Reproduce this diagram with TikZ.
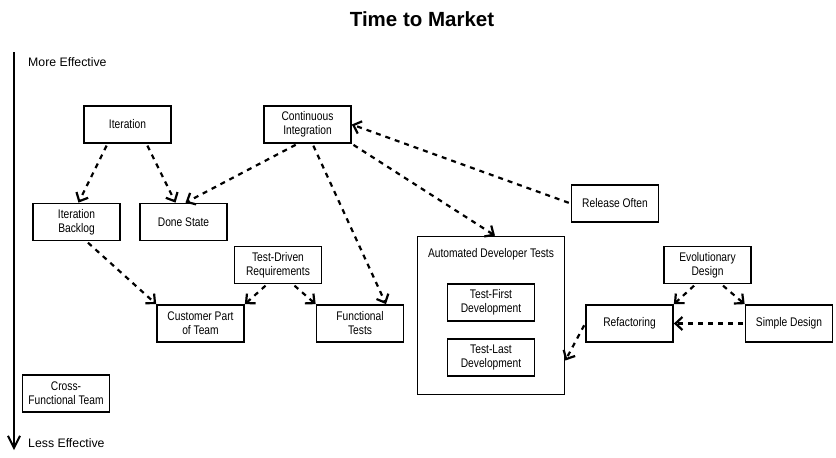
\documentclass[tikz,border=0pt]{standalone}
\usepackage{fontspec}
\setmainfont{Liberation Sans}
\newfontfamily\narrowfont[FakeStretch=0.82]{Liberation Sans}
\usetikzlibrary{arrows.meta}

\begin{document}
\begin{tikzpicture}[x=1pt,y=-1pt,
  box/.style={draw, line width=1.7pt, minimum width=87pt, minimum height=37pt,
    inner sep=1pt, align=center, font=\narrowfont\fontsize{12.5}{14}\selectfont},
  dep/.style={line width=2.2pt, dash pattern=on 5pt off 5pt, shorten <=2pt,
    -{Straight Barb[length=7pt,width=13pt,line width=2.2pt]}},
  axislabel/.style={anchor=west, inner sep=0pt, font=\fontsize{12.3}{14}\selectfont}]
\useasboundingbox (0,0) rectangle (836,458);

\node (title) at (422,19) [font=\bfseries\fontsize{20.5}{22}\selectfont] {Time to Market};

% effectiveness axis
\coordinate (top) at (14,52);
\coordinate (bottom) at (14,450);
\draw[line width=2pt, -{Straight Barb[length=12pt,width=12pt,line width=2pt]}] (top) -- (bottom);
\node (more) at (28,62.5) [axislabel] {More Effective};
\node (less) at (28,443) [axislabel] {Less Effective};

% practices
\node (iter) at (127.5,124.5) [box] {Iteration};
\node (ci) at (307.5,124.5) [box] {Continuous\\Integration};
\node (backlog) at (76.5,222) [box] {Iteration\\Backlog};
\node (done) at (183.5,222) [box] {Done State};
\node (release) at (615,203.5) [box] {Release Often};
\node (tdr) at (278,265) [box] {Test-Driven\\Requirements};
\node (cust) at (200.5,323.5) [box] {Customer Part\\of Team};
\node (func) at (360,323.5) [box] {Functional\\Tests};
\node (cross) at (66,393.5) [box] {Cross-\\Functional Team};
\node (adt) at (491,315.5) [box, minimum width=147pt, minimum height=158pt] {};
\node (adtlabel) at (491,254) [font=\narrowfont\fontsize{12.5}{14}\selectfont] {Automated Developer Tests};
\node (tfd) at (491,302.5) [box] {Test-First\\Development};
\node (tld) at (491,357.5) [box] {Test-Last\\Development};
\node (evol) at (707.5,265) [box] {Evolutionary\\Design};
\node (refac) at (629.5,323.5) [box] {Refactoring};
\node (simple) at (789,323.5) [box] {Simple Design};

\path[dep]
([xshift=-20pt]iter.south) edge ([xshift=2pt]backlog.north)
([xshift=19pt]iter.south) edge ([xshift=-8pt]done.north)
([xshift=-10pt]ci.south) edge ([xshift=2pt]done.north)
([xshift=5pt]ci.south) edge ([xshift=26pt]func.north)
(ci.south east) edge ([xshift=4pt]adt.north)
(release.west) edge (ci.east)
([xshift=10pt]backlog.south) edge (cust.north west)
([xshift=-11pt]tdr.south) edge (cust.north east)
([xshift=15pt]tdr.south) edge (func.north west)
([xshift=-12pt]evol.south) edge (refac.north east)
([xshift=14pt]evol.south) edge (simple.north west)
(simple.west) edge (refac.east)
(refac.west) edge ([yshift=-45pt]adt.east);
\end{tikzpicture}
\end{document}
